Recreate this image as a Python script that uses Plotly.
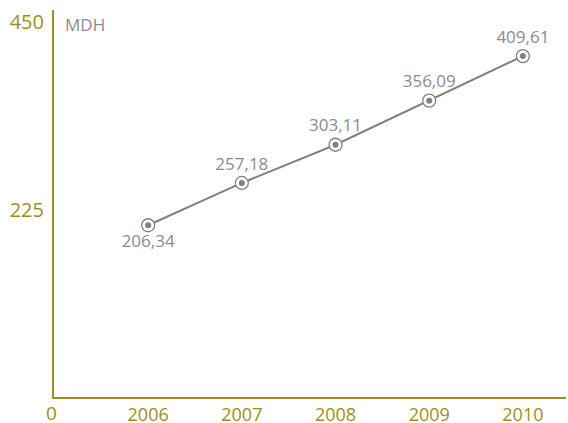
import plotly.graph_objects as go

# Data
years = [2006, 2007, 2008, 2009, 2010]
values = [206.34, 257.18, 303.11, 356.09, 409.61]
value_labels = ["206,34", "257,18", "303,11", "356,09", "409,61"]
label_positions = ["bottom center", "top center", "top center", "top center", "top center"]
y_ticks = [225, 450]
unit = "MDH"

OLIVE = "#9c8f1a"
GREY = "#808080"
LABEL_GREY = "#8c8c8c"
FONT = "Open Sans, Noto Sans, sans-serif"

fig = go.Figure()

# Line with outer ring markers and value labels
fig.add_trace(go.Scatter(
    x=years, y=values,
    mode="lines+markers+text",
    line=dict(color=GREY, width=2),
    marker=dict(size=13, color="white", line=dict(color=GREY, width=1.3)),
    text=value_labels,
    textposition=label_positions,
    textfont=dict(color=LABEL_GREY, size=17, family=FONT),
    cliponaxis=False,
    hoverinfo="skip",
))

# Inner dots
fig.add_trace(go.Scatter(
    x=years, y=values,
    mode="markers",
    marker=dict(size=6, color=GREY),
    cliponaxis=False,
    hoverinfo="skip",
))

fig.update_layout(
    width=568, height=423,
    paper_bgcolor="white",
    plot_bgcolor="white",
    showlegend=False,
    margin=dict(l=54, r=2, t=10, b=26, autoexpand=False),
    font=dict(family=FONT, color=OLIVE, size=18),
    annotations=[
        dict(text=unit, x=0, y=1, xref="paper", yref="paper",
             xanchor="left", yanchor="middle", xshift=9, yshift=-14,
             showarrow=False, font=dict(color=LABEL_GREY, size=17, family=FONT)),
        dict(text="0", x=0, y=0, xref="paper", yref="paper",
             xanchor="center", yanchor="middle", xshift=-3, yshift=-16,
             showarrow=False, font=dict(color=OLIVE, size=19, family=FONT)),
    ],
)

fig.update_xaxes(
    range=[2004.995, 2010.46],
    tickvals=years,
    ticktext=[str(y) for y in years],
    showgrid=False, zeroline=False, automargin=False,
    showline=True, linecolor=OLIVE, linewidth=2,
    ticks="", tickfont=dict(color=OLIVE, size=18),
    ticklabelstandoff=0,
)
fig.update_yaxes(
    range=[0, 465],
    tickvals=y_ticks,
    showgrid=False, zeroline=False, automargin=False,
    showline=True, linecolor=OLIVE, linewidth=2,
    ticks="", tickfont=dict(color=OLIVE, size=20),
    ticklabelstandoff=4,
)

# drop the default page margin so the figure sits at the window's corner
fig.write_html(
    "out.html",
    config={"displayModeBar": False},
    post_script="document.body.style.margin='0';",
)
